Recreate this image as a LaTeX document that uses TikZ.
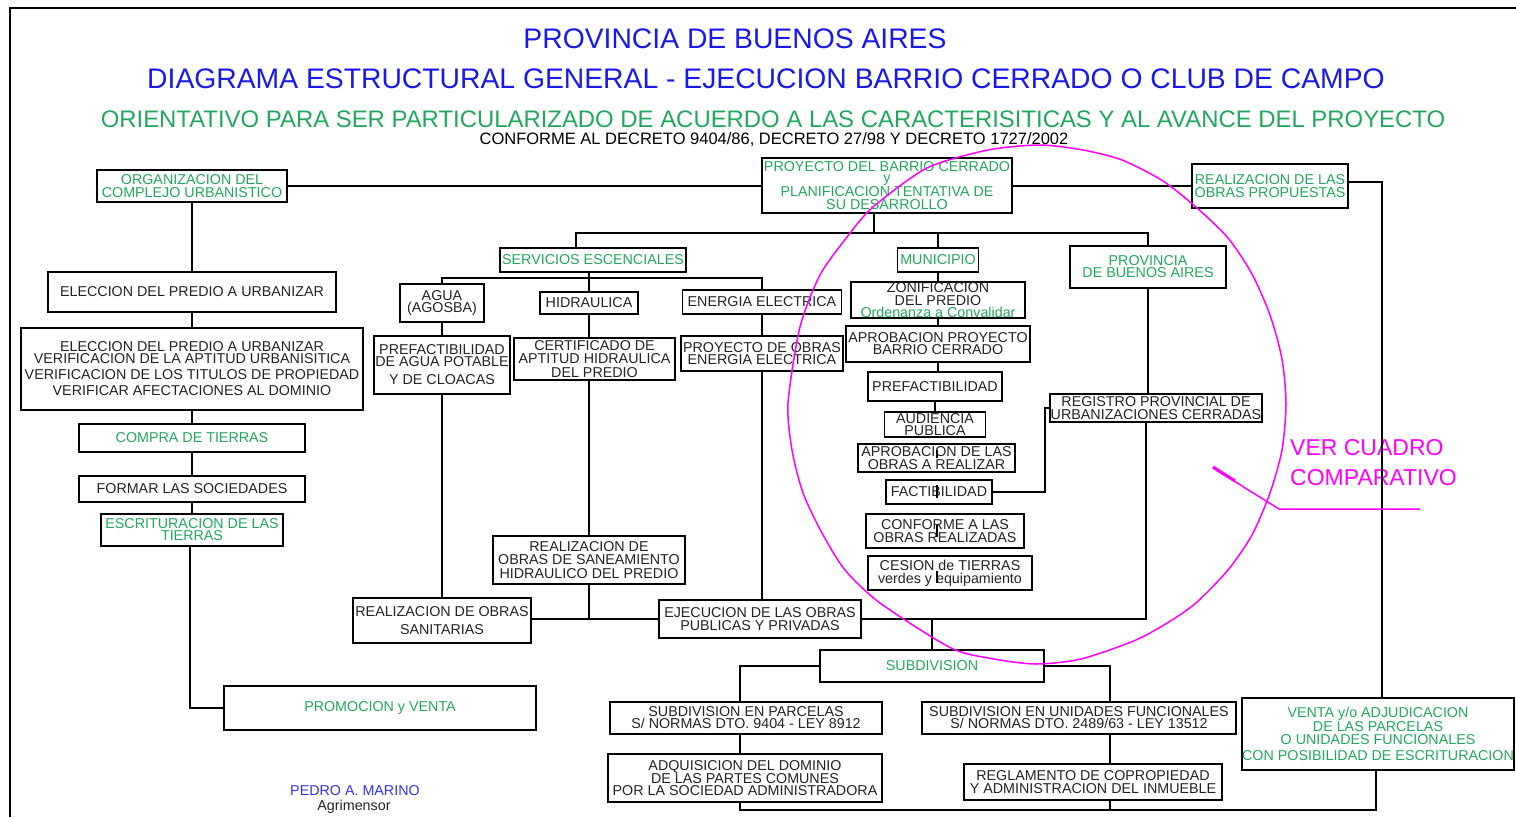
\documentclass[tikz,border=0pt]{standalone}
\usepackage{fontspec}
\setmainfont{Liberation Sans}
\definecolor{verde}{RGB}{33,168,94}
\definecolor{azul}{RGB}{25,25,235}
\definecolor{azulclaro}{RGB}{50,50,240}
\definecolor{oscuro}{RGB}{35,35,35}
\definecolor{fucsia}{RGB}{255,0,255}
\begin{document}
\begin{tikzpicture}[x=1pt,y=-1pt]
		\tikzstyle{every node}+=[inner sep=0pt]
		\tikzstyle{caja}=[draw=black, line width=1.8pt, fill=white, align=center, text=oscuro, font=\fontsize{14.3}{13.5}\selectfont]
		\tikzstyle{cajav}=[caja, text=verde]
		\tikzstyle{linea}=[black, line width=1.8pt]
		\useasboundingbox (0,0) rectangle (1516,817);
		\draw [black, line width=2pt] (10,817) -- (10,8) -- (1516,8);
		\node [text=azul, font=\fontsize{28.3}{30}\selectfont] (tit1) at (735,39) {PROVINCIA DE BUENOS AIRES};
		\node [text=azul, font=\fontsize{28.3}{30}\selectfont] (tit2) at (766,79) {DIAGRAMA ESTRUCTURAL GENERAL - EJECUCION BARRIO CERRADO O CLUB DE CAMPO};
		\node [text=verde, font=\fontsize{23.9}{25}\selectfont] (tit3) at (773,119) {ORIENTATIVO PARA SER PARTICULARIZADO DE ACUERDO A LAS CARACTERISITICAS Y AL AVANCE DEL PROYECTO};
		\node [text=black, font=\fontsize{16.5}{18}\selectfont] (tit4) at (774,140) {CONFORME AL DECRETO 9404/86, DECRETO 27/98 Y DECRETO 1727/2002};
		\node [cajav, minimum width=190, minimum height=32] (org) at (192,186) {ORGANIZACION DEL\\COMPLEJO URBANISTICO};
		\node [cajav, minimum width=250, minimum height=55] (proy) at (887,185.5) {PROYECTO DEL BARRIO CERRADO\\[-2pt]y\\PLANIFICACION TENTATIVA DE\\SU DESARROLLO};
		\node [cajav, minimum width=156, minimum height=44] (obras) at (1270,186) {REALIZACION DE LAS\\OBRAS PROPUESTAS};
		\node [caja, minimum width=288, minimum height=40] (elec) at (192,292) {ELECCION DEL PREDIO A URBANIZAR};
		\node [caja, minimum width=342, minimum height=82] (verif) at (192,369) {ELECCION DEL PREDIO A URBANIZAR\\[-1.5pt]VERIFICACION DE LA APTITUD URBANISITICA\\[2.5pt]VERIFICACION DE LOS TITULOS DE PROPIEDAD\\[2.5pt]VERIFICAR AFECTACIONES AL DOMINIO};
		\node [cajav, minimum width=226, minimum height=28] (compra) at (192,438) {COMPRA DE TIERRAS};
		\node [caja, minimum width=226, minimum height=26] (formar) at (192,489) {FORMAR LAS SOCIEDADES};
		\node [cajav, minimum width=182, minimum height=32] (escrit) at (192,530) {ESCRITURACION DE LAS\\[-1.5pt]TIERRAS};
		\node [cajav, minimum width=312, minimum height=44] (promo) at (380,708) {PROMOCION y VENTA};
		\node [cajav, minimum width=186, minimum height=24] (serv) at (593,260) {SERVICIOS ESCENCIALES};
		\node [caja, minimum width=84, minimum height=38] (agua) at (442,303) {AGUA\\[-1pt](AGOSBA)};
		\node [caja, minimum width=98, minimum height=22] (hidra) at (589,303) {HIDRAULICA};
		\node [caja, minimum width=159, minimum height=24] (energ) at (762,302) {ENERGIA ELECTRICA};
		\node [caja, minimum width=136, minimum height=58] (prefagua) at (442,365) {PREFACTIBILIDAD\\[-1.5pt]DE AGUA POTABLE\\[4.5pt]Y DE CLOACAS};
		\node [caja, minimum width=161, minimum height=42] (cert) at (594.5,359) {CERTIFICADO DE\\APTITUD HIDRAULICA\\DEL PREDIO};
		\node [caja, minimum width=162, minimum height=35] (proyen) at (762,353.5) {PROYECTO DE OBRAS\\[-1.5pt]ENERGIA ELECTRICA};
		\node [caja, minimum width=178, minimum height=45] (sanit) at (442,620.5) {REALIZACION DE OBRAS\\[4.5pt]SANITARIAS};
		\node [caja, minimum width=192, minimum height=48] (sanea) at (589,560) {REALIZACION DE\\OBRAS DE SANEAMIENTO\\HIDRAULICO DEL PREDIO};
		\node [caja, minimum width=202, minimum height=38] (ejec) at (760,619) {EJECUCION DE LAS OBRAS\\PUBLICAS Y PRIVADAS};
		\node [cajav, minimum width=224, minimum height=32] (subdiv) at (932,666) {SUBDIVISION};
		\node [caja, minimum width=272, minimum height=32] (parc) at (746,718) {SUBDIVISION EN PARCELAS\\[-1.5pt]S/ NORMAS DTO. 9404 - LEY 8912};
		\node [caja, minimum width=274, minimum height=48] (adq) at (745,778) {ADQUISICION DEL DOMINIO\\DE LAS PARTES COMUNES\\[-1.5pt]POR LA SOCIEDAD ADMINISTRADORA};
		\node [caja, minimum width=314, minimum height=32] (unid) at (1079,718) {SUBDIVISION EN UNIDADES FUNCIONALES\\[-1.5pt]S/ NORMAS DTO. 2489/63 - LEY 13512};
		\node [caja, minimum width=258, minimum height=36] (regl) at (1093,782) {REGLAMENTO DE COPROPIEDAD\\Y ADMINISTRACION DEL INMUEBLE};
		\node [cajav, minimum width=272, minimum height=72] (venta) at (1378,734) {VENTA y/o ADJUDICACION\\DE LAS PARCELAS\\O UNIDADES FUNCIONALES\\[2.5pt]CON POSIBILIDAD DE ESCRITURACION};
		\node [cajav, minimum width=81, minimum height=24] (muni) at (938,260) {MUNICIPIO};
		\node [caja, minimum width=174, minimum height=36] (zonif) at (938,300) {ZONIFICACION\\DEL PREDIO\\[-2pt]{\color{verde}Ordenanza a Convalidar}};
		\node [caja, minimum width=184, minimum height=36] (aprob) at (938,344) {APROBACION PROYECTO\\[-1.5pt]BARRIO CERRADO};
		\node [caja, minimum width=134, minimum height=29] (prefac) at (935,386.5) {PREFACTIBILIDAD};
		\node [caja, minimum width=101, minimum height=25] (audi) at (935,424.5) {AUDIENCIA\\[-1.5pt]PUBLICA};
		\node [caja, minimum width=157, minimum height=28] (aprobobr) at (936.5,458) {APROBACION DE LAS\\OBRAS A REALIZAR};
		\node [caja, minimum width=106, minimum height=24] (factib) at (939,492) {FACTIBILIDAD};
		\node [caja, minimum width=158, minimum height=34] (conf) at (945,531) {CONFORME A LAS\\OBRAS REALIZADAS};
		\node [caja, minimum width=164, minimum height=34] (cesion) at (950,573) {CESION de TIERRAS\\[-0.5pt]verdes y equipamiento};
		\node [cajav, minimum width=156, minimum height=42] (prov) at (1148,267) {PROVINCIA\\[-1.5pt]DE BUENOS AIRES};
		\node [caja, minimum width=212, minimum height=28] (regis) at (1156,408) {REGISTRO PROVINCIAL DE\\URBANIZACIONES CERRADAS};
		\node [text=azulclaro, font=\fontsize{14.3}{15}\selectfont] (autor) at (355,791) {PEDRO A. MARINO};
		\node [text=oscuro, font=\fontsize{14.3}{15}\selectfont] (prof) at (354,807) {Agrimensor};
		\node [text=fucsia, anchor=west, font=\fontsize{23}{25}\selectfont] (ver1) at (1290,448) {VER CUADRO};
		\node [text=fucsia, anchor=west, font=\fontsize{23}{25}\selectfont] (ver2) at (1290,478) {COMPARATIVO};
		\coordinate (bus) at (874,233);
		\coordinate (busizq) at (576,233);
		\coordinate (busder) at (1148,233);
		\coordinate (ramal) at (589,278);
		\coordinate (base) at (740,810);
		\draw [linea] (org) -- (elec);
		\draw [linea] (elec) -- (verif);
		\draw [linea] (verif) -- (compra);
		\draw [linea] (compra) -- (formar);
		\draw [linea] (formar) -- (escrit);
		\draw [linea] ([xshift=-2]escrit.south) |- (promo.west);
		\draw [linea] (org.east) -- (org.east -| proy.west);
		\draw [linea] ([yshift=-0.5]proy.east) -- ([yshift=-0.5]proy.east -| obras.west);
		\draw [linea] ([yshift=4]obras.east) -| ([xshift=4]venta.north);
		\draw [linea] (proy.south -| bus) -- (bus);
		\draw [linea] ([xshift=-17]serv.north) -- (busizq) -- (busder) -- (prov.north);
		\draw [linea] (muni.north) -- (muni.north |- bus);
		\draw [linea] ([xshift=-4]serv.south) -- (hidra.north);
		\draw [linea] (agua.north) -- (agua.north |- ramal) -- (energ.north |- ramal) -- (energ.north);
		\draw [linea] (agua) -- (prefagua);
		\draw [linea] (hidra.south) -- (hidra.south |- cert.north);
		\draw [linea] (energ) -- (proyen);
		\draw [linea] (prefagua) -- (sanit);
		\draw [linea] (cert.south -| hidra) -- (sanea.north);
		\draw [linea] (proyen.south) -- (proyen.south |- ejec.north);
		\draw [linea] (sanea.south) -- (sanea.south |- ejec.west);
		\draw [linea] (sanit.east |- ejec.west) -- (ejec.west);
		\draw [linea] (ejec.east) -| ([xshift=-10]regis.south);
		\draw [linea] (prov.south) -- (prov.south |- regis.north);
		\draw [linea] (subdiv.north) -- (subdiv.north |- ejec.east);
		\draw [linea] (subdiv.west) -| ([xshift=-6]parc.north);
		\draw [linea] ([xshift=-6]parc.south) -- ([xshift=-6]parc.south |- adq.north);
		\draw [linea] ([xshift=-5]adq.south) -- ([xshift=-5]adq.south |- base) -| ([xshift=-2]venta.south);
		\draw [linea] (subdiv.east) -| ([xshift=31]unid.north);
		\draw [linea] ([xshift=31]unid.south) -- ([xshift=31]unid.south |- regl.north);
		\draw [linea] ([xshift=17]regl.south) -- ([xshift=17]regl.south |- base);
		\draw [linea] (muni) -- (zonif);
		\draw [linea] (zonif) -- (aprob);
		\draw [linea] (aprob.south) -- (aprob.south |- prefac.north);
		\draw [linea] (prefac) -- (audi);
		\draw [linea] (factib.east) -| ([xshift=-4]regis.west) -- (regis.west);
		\draw [linea, line width=1.2pt] (937,450) -- (937,458);
		\draw [linea, line width=1.2pt] (937,485) -- (937,498);
		\draw [linea, line width=1.2pt] (937,525) -- (937,537);
		\draw [linea, line width=1.2pt] (937,571) -- (937,583);
		\draw [fucsia, line width=1.5pt] plot [smooth cycle, tension=0.45] coordinates {(1040,145) (1083,150) (1122,160) (1163,181) (1197,208) (1228,238) (1252,274) (1270,315) (1282,359) (1286,404) (1282,450) (1270,493) (1252,535) (1228,570) (1197,602) (1172,620) (1136,640) (1081,659) (1036,664) (994,659) (951,648) (880,603) (845,570) (822,533) (803,493) (792,450) (788,403) (800,327) (820,275) (847,237) (873,207) (927,168) (988,150)};
		\draw [fucsia, line width=1.5pt] (1213,468) -- (1279,509) -- (1420,509);
		\draw [fucsia, line width=3pt] (1213,467) -- (1235,481);
\end{tikzpicture}
\end{document}
